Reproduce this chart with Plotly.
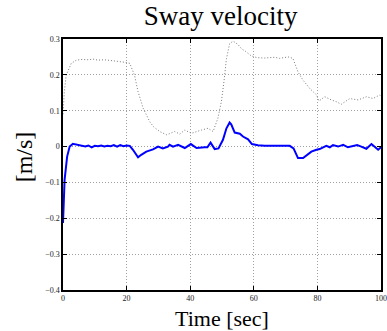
import plotly.graph_objects as go

# Blue: sway velocity
t_blue = [0, 0.5, 1.3, 2.1, 3.1, 4.7, 6, 7, 8, 9, 10, 11, 12, 13, 14, 15, 16, 17, 18, 19, 20, 21,
          22, 23, 23.6, 24.6, 26.2, 28.3, 29.9, 31.4, 33, 33.5, 34.6, 36.2, 38.3, 40.2, 42, 44.6,
          45.4, 46.4, 47.7, 48.9, 50.3, 51.4, 52.4, 52.9, 54, 55.6, 56.6, 58.2, 59.4, 61.3, 63.4,
          66.6, 69, 71.3, 72.5, 73.9, 75.5, 76.5, 78.1, 79.7, 80.7, 81.8, 82.8, 83.9, 84.9, 86.5,
          88.1, 89.6, 91.2, 92.5, 93.8, 95.4, 97, 98.3, 99.1, 100]
v_blue = [-0.213, -0.093, -0.028, 0.0, 0.0075, 0.004, 0.002, 0.0, 0.003, -0.002, 0.002, 0.001,
          0.003, 0.0, 0.002, 0.001, 0.004, 0.0, 0.004, 0.001, 0.003, 0.002,
          -0.009, -0.022, -0.03, -0.023, -0.014, -0.008, 0.0, -0.005, 0.0, 0.005, 0.0, 0.005,
          -0.004, 0.007, -0.004, -0.002, -0.002, 0.011, -0.007, -0.005, 0.019, 0.051, 0.067,
          0.062, 0.039, 0.036, 0.028, 0.02, 0.007, 0.004, 0.002, 0.002, 0.002, 0.002, -0.005,
          -0.032, -0.032, -0.026, -0.014, -0.009, -0.007, -0.002, 0.002, -0.002, 0.004, 0.0,
          0.005, -0.002, 0.002, 0.004, 0.0, -0.006, 0.007, -0.004, -0.009, -0.002]

# Gray dotted: reference
t_gray = [0, 0.4, 1.0, 2.6, 4.2, 6, 8, 9.4, 11, 13, 15, 17.8, 19.5, 21, 22.5, 23.6, 25.2, 27.3,
          28.5, 30.4, 32.5, 33.5, 35.1, 36.7, 38.3, 40.4, 42, 43.5, 45.6, 47.2, 48.7, 49.8, 50.6,
          51.4, 52.4, 53.5, 55, 56.1, 57.5, 59.2, 61, 63.4, 66.6, 68.1, 70.8, 72.3, 73.9, 75.5,
          77.6, 79.7, 80.5, 82.3, 84.4, 86, 87.5, 90.2, 92.8, 95.4, 97.5, 99.6, 100]
v_gray = [0.09, 0.15, 0.199, 0.232, 0.241, 0.243, 0.242, 0.244, 0.241, 0.242, 0.24, 0.238,
          0.235, 0.232, 0.199, 0.153, 0.107, 0.069, 0.055, 0.042, 0.033, 0.036, 0.042, 0.035,
          0.046, 0.037, 0.042, 0.046, 0.051, 0.042, 0.079, 0.125, 0.18, 0.245, 0.287, 0.294,
          0.285, 0.273, 0.265, 0.253, 0.248, 0.247, 0.249, 0.246, 0.25, 0.246, 0.208, 0.185,
          0.162, 0.144, 0.127, 0.139, 0.13, 0.125, 0.118, 0.134, 0.13, 0.139, 0.134, 0.144, 0.14]

x_ticks = [0, 20, 40, 60, 80, 100]
y_ticks = [-0.4, -0.3, -0.2, -0.1, 0, 0.1, 0.2, 0.3]
y_tick_text = ["\u22120.4", "\u22120.3", "\u22120.2", "\u22120.1", "0", "0.1", "0.2", "0.3"]

serif = "Liberation Serif"

fig = go.Figure()
fig.add_trace(go.Scatter(x=t_gray, y=v_gray, mode="lines",
                         line=dict(color="#7a7a7a", width=1, dash="1px,2px"), showlegend=False))
fig.add_trace(go.Scatter(x=t_blue, y=v_blue, mode="lines",
                         line=dict(color="#0000ff", width=2), showlegend=False))

axis_common = dict(showline=True, linecolor="black", linewidth=1.5, mirror="ticks",
                   ticks="inside", ticklen=4, tickcolor="black", tickwidth=1,
                   showgrid=True, gridcolor="#a0a0a0", gridwidth=1, griddash="1px,2px",
                   zeroline=False, automargin=False,
                   tickfont=dict(family=serif, size=8, color="#222222"))

fig.update_xaxes(range=[0, 100], tickvals=x_ticks, **axis_common)
fig.update_yaxes(range=[-0.4, 0.3], tickvals=y_ticks, ticktext=y_tick_text, **axis_common)

fig.update_layout(
    width=387, height=331,
    margin=dict(l=63, r=6, t=39, b=41),
    paper_bgcolor="white", plot_bgcolor="white",
    title=dict(text="Sway velocity", x=0.570, xanchor="center", y=0.952, yanchor="middle",
               font=dict(family=serif, size=27, color="black")),
    annotations=[
        dict(text="Time [sec]", xref="paper", yref="paper", x=0.5, y=-0.112,
             xanchor="center", yanchor="middle", showarrow=False,
             font=dict(family=serif, size=22, color="black")),
        dict(text="[m/s]", xref="paper", yref="paper", x=-0.12, y=0.532,
             xanchor="center", yanchor="middle", textangle=-90, showarrow=False,
             font=dict(family=serif, size=24, color="black")),
    ],
)

fig.write_html("out.html")
